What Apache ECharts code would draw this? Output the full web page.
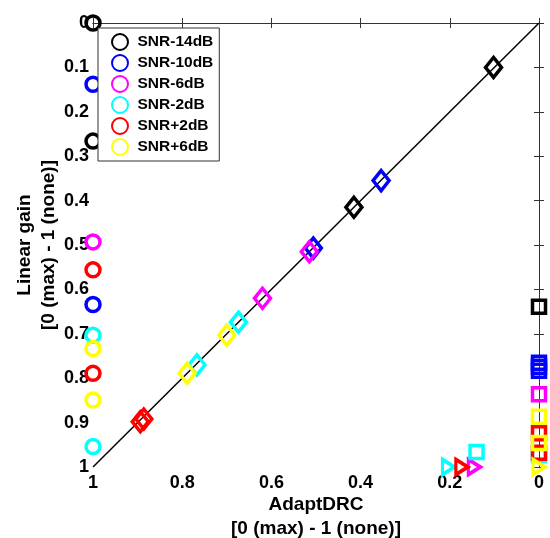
<!DOCTYPE html>
<html>
<head>
    <meta charset="utf-8">
    <title>AdaptDRC vs Linear gain</title>
    <style>
        html, body { margin: 0; padding: 0; background: #fff; }
    </style>
</head>
<body>
    <div id="chart" style="width: 550px;height: 538px;"></div>

    <script src="https://cdn.jsdelivr.net/npm/echarts@6/dist/echarts.min.js"></script>
    <script>
        // groups
        const snrNames = ['SNR-14dB', 'SNR-10dB', 'SNR-6dB', 'SNR-2dB', 'SNR+2dB', 'SNR+6dB'];
        const snrColors = ['#000000', '#0000ff', '#ff00ff', '#00ffff', '#ff0000', '#ffff00'];

        // circles: linear gain values at AdaptDRC = 1
        const circleGain = [
            [0, 0.266],
            [0.138, 0.634],
            [0.493],
            [0.703, 0.954],
            [0.556, 0.789],
            [0.733, 0.849]
        ];
        // diamonds: [AdaptDRC, linear gain]
        const diamondPts = [
            [[0.102, 0.100], [0.415, 0.415]],
            [[0.354, 0.355], [0.506, 0.507]],
            [[0.515, 0.515], [0.620, 0.620]],
            [[0.674, 0.674], [0.767, 0.770]],
            [[0.894, 0.898], [0.886, 0.892]],
            [[0.700, 0.703], [0.789, 0.789]]
        ];
        // squares: [AdaptDRC, linear gain]
        const squarePts = [
            [[0, 0.639]],
            [[0, 0.765], [0, 0.774], [0, 0.783]],
            [[0, 0.836]],
            [[0, 0.973], [0.140, 0.966]],
            [[0, 0.924], [0, 0.968]],
            [[0, 0.887], [0, 0.946]]
        ];
        // triangles: [AdaptDRC, linear gain]
        const trianglePts = [
            [],
            [],
            [[0.145, 1]],
            [[0.203, 1]],
            [[0.173, 1]],
            [[0, 1]]
        ];
        const diagonal = [[1, 1], [0, 0]];

        const font = 'Liberation Sans, Arial, sans-serif';
        const chart = echarts.init(document.getElementById('chart'));

        function hollow(color) {
            return { color: 'rgba(255,255,255,0)', borderColor: color, borderWidth: 3.5, opacity: 1 };
        }

        var series = [{
            type: 'line',
            data: diagonal,
            symbol: 'none',
            silent: true,
            lineStyle: { color: '#000', width: 1.5 },
            z: 1
        }];

        snrNames.forEach((name, i) => {
            series.push({
                name: name,
                type: 'scatter',
                symbol: 'circle',
                symbolSize: 14,
                clip: false,
                itemStyle: hollow(snrColors[i]),
                data: circleGain[i].map(v => [1, v])
            });
            series.push({
                name: name + ' diamond',
                type: 'scatter',
                symbol: 'diamond',
                symbolSize: [16, 20],
                clip: false,
                itemStyle: hollow(snrColors[i]),
                data: diamondPts[i]
            });
            series.push({
                name: name + ' square',
                type: 'scatter',
                symbol: 'rect',
                symbolSize: 13,
                clip: false,
                itemStyle: hollow(snrColors[i]),
                data: squarePts[i]
            });
            series.push({
                name: name + ' triangle',
                type: 'scatter',
                symbol: 'triangle',
                symbolSize: [15, 12],
                symbolRotate: -90,
                clip: false,
                itemStyle: hollow(snrColors[i]),
                data: trianglePts[i]
            });
        });

        const axisLine = { show: true, lineStyle: { color: '#333', width: 1 } };
        const axisTick = { show: true, inside: true, length: 5, lineStyle: { color: '#333' } };
        const tickLabel = { color: '#000', fontFamily: font, fontWeight: 'bold', fontSize: 18 };
        const nameStyle = { color: '#000', fontFamily: font, fontWeight: 'bold', fontSize: 19, lineHeight: 24 };

        const option = {
            animation: false,
            backgroundColor: '#fff',
            grid: { left: 93, right: 11, top: 23, bottom: 71, outerBoundsMode: 'none', containLabel: false },
            legend: {
                data: snrNames,
                orient: 'vertical',
                left: 98,
                top: 28,
                itemWidth: 25,
                itemHeight: 16,
                itemGap: 3,
                padding: [5, 6, 5, 13],
                borderColor: '#333',
                borderWidth: 1,
                backgroundColor: '#fff',
                textStyle: { color: '#000', fontFamily: font, fontWeight: 'bold', fontSize: 15.5 }
            },
            xAxis: [{
                type: 'value',
                inverse: true,
                min: 0,
                max: 1,
                interval: 0.2,
                name: 'AdaptDRC\n[0 (max) - 1 (none)]',
                nameLocation: 'middle',
                nameGap: 26,
                nameMoveOverlap: false,
                nameTextStyle: Object.assign({ verticalAlign: 'top' }, nameStyle),
                axisLine: axisLine,
                axisTick: axisTick,
                axisLabel: Object.assign({ margin: 7 }, tickLabel),
                splitLine: { show: false }
            }, {
                type: 'value',
                position: 'top',
                inverse: true,
                min: 0,
                max: 1,
                interval: 0.2,
                axisLine: axisLine,
                axisTick: axisTick,
                axisLabel: { show: false },
                splitLine: { show: false }
            }],
            yAxis: [{
                type: 'value',
                inverse: true,
                min: 0,
                max: 1,
                interval: 0.1,
                name: 'Linear gain\n[0 (max) - 1 (none)]',
                nameLocation: 'middle',
                nameRotate: 90,
                nameGap: 32,
                nameMoveOverlap: false,
                nameTextStyle: nameStyle,
                axisLine: axisLine,
                axisTick: axisTick,
                axisLabel: Object.assign({ margin: 4 }, tickLabel),
                splitLine: { show: false }
            }, {
                type: 'value',
                position: 'right',
                inverse: true,
                min: 0,
                max: 1,
                interval: 0.1,
                axisLine: axisLine,
                axisTick: axisTick,
                axisLabel: { show: false },
                splitLine: { show: false }
            }],
            series: series
        };
        chart.setOption(option);
    </script>
</body>
</html>
